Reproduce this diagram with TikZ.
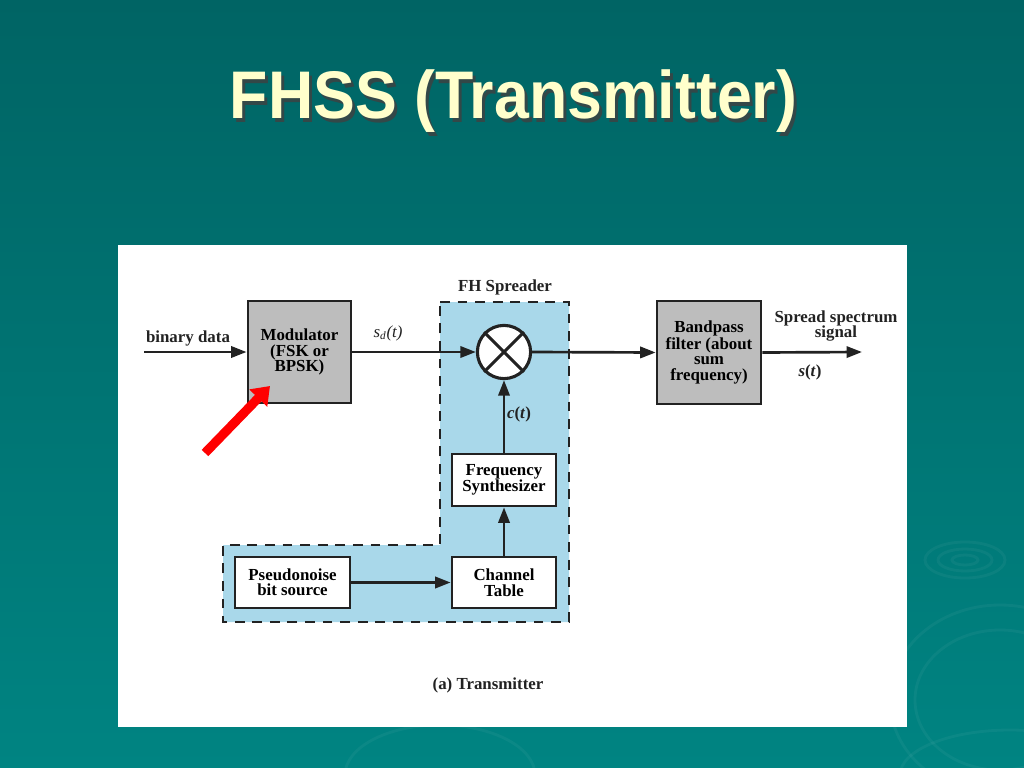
\documentclass[tikz,border=0pt]{standalone}
\usepackage{fontspec}
\setmainfont{Liberation Serif}
\newfontfamily\titlefont{Liberation Sans}
\usepackage{graphicx}
\usetikzlibrary{arrows.meta,positioning}

\definecolor{slidetop}{HTML}{006464}
\definecolor{slidebot}{HTML}{008482}
\definecolor{titlecream}{HTML}{FFFFCC}
\definecolor{spreadblue}{HTML}{A9D8EA}
\definecolor{boxgray}{HTML}{BDBDBD}
\definecolor{inkgray}{HTML}{222222}

\tikzset{
  block/.style={draw=inkgray, line width=1.9pt, fill=white, align=center,
    font=\fontsize{12}{11}\selectfont\bfseries, inner sep=0pt},
  flow/.style={draw=inkgray, line width=1.9pt, -{Triangle[length=11pt,width=8pt]}},
  lbl/.style={font=\fontsize{12}{11}\selectfont\bfseries, align=center, text=inkgray, inner sep=1pt}
}

\begin{document}
\begin{tikzpicture}[x=0.025cm, y=-0.025cm]

			\useasboundingbox (0,0) rectangle (1024,768);

			% Slide background
			\shade[top color=slidetop, bottom color=slidebot] (0,0) rectangle (1024,768);

			% Ripples
			\begin{scope}[draw=white, opacity=0.045, line width=2pt]
				\draw (965,560) ellipse (40 and 18);
				\draw (965,560) ellipse (27 and 11);
				\draw (965,560) ellipse (13 and 5);
				\draw (1000,700) ellipse (110 and 95);
				\draw (1000,700) ellipse (85 and 70);
				\draw (440,775) ellipse (95 and 50);
				\draw (1010,775) ellipse (110 and 45);
			\end{scope}

			% Title
			\node[anchor=base, text=black!75, opacity=0.8, inner sep=0pt] (titleshadow) at (516.5,122)
				{\resizebox{14.18cm}{1.22cm}{\titlefont\bfseries FHSS (Transmitter)}};
			\node[anchor=base, text=titlecream, inner sep=0pt] (title) at (513.5,119)
				{\resizebox{14.18cm}{1.22cm}{\titlefont\bfseries FHSS (Transmitter)}};

			% Figure panel
			\fill[white] (118,245) rectangle (907,727);

			% FH spreader region
			\filldraw[fill=spreadblue, draw=inkgray, line width=2.1pt, dash pattern=on 7pt off 5.5pt]
			(440,302) -- (569,302) -- (569,622) -- (223,622) -- (223,545) -- (440,545) -- cycle;
			\node[lbl] (spreadlbl) at (505,287) {FH Spreader};

			% Blocks
			\node[block, fill=boxgray, minimum width=2.58cm, minimum height=2.55cm] (mod) at (299.5,352)
				{Modulator\\(FSK or\\BPSK)};
			\node[block, circle, minimum size=1.33cm, line width=2.2pt] (mix) at (504,352) {};
			\draw[inkgray, line width=2.2pt] (mix.north west) -- (mix.south east);
			\draw[inkgray, line width=2.2pt] (mix.north east) -- (mix.south west);
			\node[block, fill=boxgray, minimum width=2.6cm, minimum height=2.58cm] (bpf) at (709,352.5)
				{Bandpass\\filter (about\\sum\\frequency)};
			\node[block, minimum width=2.6cm, minimum height=1.3cm] (synth) at (504,480)
				{Frequency\\Synthesizer};
			\node[block, minimum width=2.6cm, minimum height=1.28cm] (chtab) at (504,582.5)
				{Channel\\Table};
			\node[block, minimum width=2.88cm, minimum height=1.28cm] (pnsrc) at (292.5,582.5)
				{Pseudonoise\\bit source};

			% Free ends
			\coordinate (datain) at (144,352);
			\coordinate (sigout) at (862,352);

			% Signal path
			\draw[flow] (datain) -- (mod.west);
			\draw[flow] (mod.east) -- (mix.west);
			\draw[flow] (mix.east) -- (bpf.west);
			\draw[flow] (bpf.east) -- (sigout);
			\draw[flow] (synth.north) -- (mix.south);
			\draw[flow] (chtab.north) -- (synth.south);
			\draw[flow] (pnsrc.east) -- (chtab.west);

			% Labels
			\node[lbl] (datalbl) at (188,338) {binary data};
			\node[lbl, font=\fontsize{12}{11}\selectfont] (sdlbl) at (388,333) {\textit{s}\textsubscript{\textit{d}}\textit{(t)}};
			\node[lbl] (ctlbl) at (519,414) {\textit{c}(\textit{t})};
			\node[lbl] (outlbl) at (836,326) {Spread spectrum\\signal};
			\node[lbl] (stlbl) at (810,372) {\textit{s}(\textit{t})};
			\node[lbl] (caption) at (488,685) {(a) Transmitter};

			% Pointer
			\coordinate (ptrtail) at (205,453);
			\coordinate (ptrtip) at (270,386);
			\draw[red, line width=6.5pt, -{Triangle[length=12pt,width=17pt]}] (ptrtail) -- (ptrtip);

		\end{tikzpicture}
\end{document}
